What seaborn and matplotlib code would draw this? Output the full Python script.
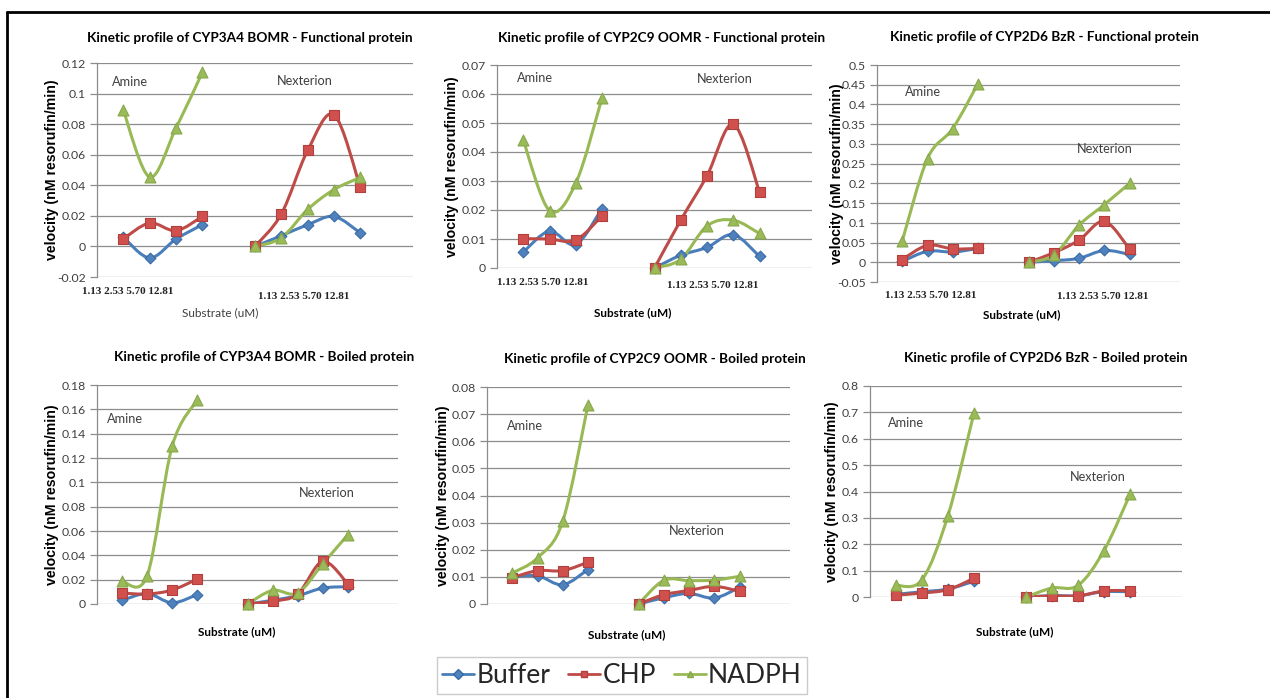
import numpy as np
import pandas as pd
import matplotlib
matplotlib.use("Agg")
import matplotlib.pyplot as plt
import seaborn as sns
from matplotlib.path import Path
from matplotlib.patches import PathPatch
from matplotlib.lines import Line2D
from matplotlib.ticker import FuncFormatter

# ---------------- data ----------------
treatments = ["Buffer", "CHP", "NADPH"]
groups = ["Amine", "Nexterion"]
substrate_labels = ["1.13", "2.53", "5.70", "12.81"]

# CYP3A4 BOMR - Functional protein
f3a4_amine_buffer = [0.006, -0.0075, 0.0048, 0.0142]
f3a4_amine_chp = [0.005, 0.0153, 0.0103, 0.0196]
f3a4_amine_nadph = [0.089, 0.0454, 0.0774, 0.1139]
f3a4_nex_buffer = [0.0, 0.007, 0.0142, 0.0196, 0.0088]
f3a4_nex_chp = [0.0, 0.0212, 0.0628, 0.0862, 0.0386]
f3a4_nex_nadph = [0.0, 0.0056, 0.0242, 0.0372, 0.0451]

# CYP2C9 OOMR - Functional protein
f2c9_amine_buffer = [0.0055, 0.0127, 0.0081, 0.0205]
f2c9_amine_chp = [0.0101, 0.0100, 0.0096, 0.0180]
f2c9_amine_nadph = [0.0441, 0.0198, 0.0292, 0.0586]
f2c9_nex_buffer = [0.0, 0.0044, 0.0071, 0.0115, 0.0040]
f2c9_nex_chp = [0.0, 0.0165, 0.0318, 0.0496, 0.0263]
f2c9_nex_nadph = [0.0, 0.0030, 0.0145, 0.0165, 0.0119]

# CYP2D6 BzR - Functional protein
f2d6_amine_buffer = [0.002, 0.028, 0.026, 0.035]
f2d6_amine_chp = [0.007, 0.043, 0.034, 0.035]
f2d6_amine_nadph = [0.054, 0.263, 0.339, 0.453]
f2d6_nex_buffer = [0.0, 0.004, 0.010, 0.030, 0.020]
f2d6_nex_chp = [0.0, 0.024, 0.056, 0.104, 0.034]
f2d6_nex_nadph = [0.0, 0.018, 0.094, 0.146, 0.200]

# CYP3A4 BOMR - Boiled protein
b3a4_amine_buffer = [0.003, 0.0085, 0.0010, 0.0078]
b3a4_amine_chp = [0.0090, 0.0082, 0.0115, 0.0205]
b3a4_amine_nadph = [0.0186, 0.0233, 0.1300, 0.1677]
b3a4_nex_buffer = [0.0, 0.0030, 0.0068, 0.0131, 0.0142]
b3a4_nex_chp = [0.0, 0.0022, 0.0082, 0.0350, 0.0165]
b3a4_nex_nadph = [0.0, 0.0112, 0.0090, 0.0330, 0.0569]

# CYP2C9 OOMR - Boiled protein
b2c9_amine_buffer = [0.0100, 0.0104, 0.0071, 0.0127]
b2c9_amine_chp = [0.0097, 0.0123, 0.0123, 0.0154]
b2c9_amine_nadph = [0.0114, 0.0170, 0.0305, 0.0735]
b2c9_nex_buffer = [0.0, 0.0023, 0.0039, 0.0022, 0.0061]
b2c9_nex_chp = [0.0, 0.0034, 0.0050, 0.0065, 0.0047]
b2c9_nex_nadph = [0.0, 0.0087, 0.0086, 0.0088, 0.0102]

# CYP2D6 BzR - Boiled protein
b2d6_amine_buffer = [0.010, 0.020, 0.030, 0.060]
b2d6_amine_chp = [0.007, 0.015, 0.028, 0.071]
b2d6_amine_nadph = [0.044, 0.065, 0.309, 0.698]
b2d6_nex_buffer = [0.0, 0.005, 0.005, 0.020, 0.020]
b2d6_nex_chp = [0.0, 0.004, 0.004, 0.023, 0.024]
b2d6_nex_nadph = [0.0, 0.034, 0.044, 0.176, 0.389]

titles = [
    "Kinetic profile of CYP3A4 BOMR - Functional protein",
    "Kinetic profile of CYP2C9 OOMR - Functional protein",
    "Kinetic profile of CYP2D6 BzR - Functional protein",
    "Kinetic profile of CYP3A4 BOMR - Boiled protein",
    "Kinetic profile of CYP2C9 OOMR - Boiled protein",
    "Kinetic profile of CYP2D6 BzR - Boiled protein",
]
panel_series = [
    ([f3a4_amine_buffer, f3a4_amine_chp, f3a4_amine_nadph], [f3a4_nex_buffer, f3a4_nex_chp, f3a4_nex_nadph]),
    ([f2c9_amine_buffer, f2c9_amine_chp, f2c9_amine_nadph], [f2c9_nex_buffer, f2c9_nex_chp, f2c9_nex_nadph]),
    ([f2d6_amine_buffer, f2d6_amine_chp, f2d6_amine_nadph], [f2d6_nex_buffer, f2d6_nex_chp, f2d6_nex_nadph]),
    ([b3a4_amine_buffer, b3a4_amine_chp, b3a4_amine_nadph], [b3a4_nex_buffer, b3a4_nex_chp, b3a4_nex_nadph]),
    ([b2c9_amine_buffer, b2c9_amine_chp, b2c9_amine_nadph], [b2c9_nex_buffer, b2c9_nex_chp, b2c9_nex_nadph]),
    ([b2d6_amine_buffer, b2d6_amine_chp, b2d6_amine_nadph], [b2d6_nex_buffer, b2d6_nex_chp, b2d6_nex_nadph]),
]
y_ranges = [(-0.02, 0.12, 0.02), (0.0, 0.07, 0.01), (-0.05, 0.5, 0.05),
            (0.0, 0.18, 0.02), (0.0, 0.08, 0.01), (0.0, 0.8, 0.1)]

# ---------------- long-form table ----------------
rows = []
for p, (amine, nex) in enumerate(panel_series):
    for g, block in zip(groups, (amine, nex)):
        start = 1 if g == "Amine" else 6
        for t, vals in zip(treatments, block):
            for i, v in enumerate(vals):
                rows.append(dict(panel=p, group=g, treatment=t, pos=start + i, value=v))
df = pd.DataFrame(rows)

# ---------------- style ----------------
sns.set_style("white")
plt.rcParams["font.family"] = ["Lato", "DejaVu Sans"]

line_colors = {"Buffer": "#4A7EBB", "CHP": "#BE4B48", "NADPH": "#98B954"}
fill_colors = {"Buffer": "#4F81BD", "CHP": "#D0504D", "NADPH": "#9BBB59"}
edge_colors = {"Buffer": "#3A6AA6", "CHP": "#B0403D", "NADPH": "#86A84A"}
markers = {"Buffer": "D", "CHP": "s", "NADPH": "^"}
msizes = {"Buffer": 30, "CHP": 55, "NADPH": 62}
grid_c = "#8C8C8C"
text_c = "#404040"

W, H = 1270, 698
fig = plt.figure(figsize=(W / 100, H / 100), dpi=100)

# pixel boxes: x0, x1, y_top, y_bottom
boxes = [(97, 413, 63, 277), (497, 812, 65, 268), (877, 1180, 65, 282),
         (97, 398, 385, 604), (487, 790, 387, 604), (870, 1182, 386, 597)]
title_pos = [(0.484, 1.117), (0.524, 1.133), (0.554, 1.129),
             (0.555, 1.128), (0.554, 1.129), (0.564, 1.133)]
ylabel_off = [45, 45, 40, 45, 44, 38]
xlabel_pos = [(0.389, -0.168), (0.432, -0.222), (0.479, -0.152),
              (0.465, -0.128), (0.462, -0.143), (0.465, -0.166)]
amine_pos = [(0.104, 0.911), (0.121, 0.936), (0.152, 0.876),
             (0.093, 0.845), (0.125, 0.82), (0.115, 0.825)]
nex_pos = [(0.658, 0.916), (0.724, 0.931), (0.752, 0.613),
           (0.764, 0.507), (0.693, 0.336), (0.731, 0.569)]
subs_pos = {0: ((-0.047, -0.070), (0.509, -0.093)),
            1: ((0.0, -0.069), (0.540, -0.084)),
            2: ((0.026, -0.060), (0.594, -0.069))}


def smooth_path(x, y):
    """Excel-style smoothed line through the points (cubic Bezier segments)."""
    pts = np.column_stack([x, y]).astype(float)
    n = len(pts)
    verts = [pts[0]]
    codes = [Path.MOVETO]
    for i in range(n - 1):
        p_prev = pts[i - 1] if i > 0 else pts[i]
        p_next2 = pts[i + 2] if i + 2 < n else pts[i + 1]
        c1 = pts[i] + (pts[i + 1] - p_prev) / 6.0
        c2 = pts[i + 1] - (p_next2 - pts[i]) / 6.0
        verts += [c1, c2, pts[i + 1]]
        codes += [Path.CURVE4] * 3
    return Path(verts, codes)


def fmt(v, _):
    s = f"{v:.2f}".rstrip("0").rstrip(".")
    if s in ("-0", "0.", ""):
        s = "0"
    return s


for p in range(6):
    x0, x1, yt, yb = boxes[p]
    ax = fig.add_axes([x0 / W, 1 - yb / H, (x1 - x0) / W, (yb - yt) / H])
    ymin, ymax, step = y_ranges[p]
    ax.set_xlim(0, 12)
    ax.set_ylim(ymin, ymax)
    ticks = np.round(np.arange(ymin, ymax + step / 2, step), 4)
    ax.set_yticks(ticks)
    ax.yaxis.set_major_formatter(FuncFormatter(fmt))
    ax.set_xticks([])
    ax.grid(axis="y", color=grid_c, linewidth=0.9)
    ax.set_axisbelow(True)
    for s in ("top", "right", "bottom"):
        ax.spines[s].set_visible(False)
    ax.spines["left"].set_color(grid_c)
    ax.spines["left"].set_linewidth(0.9)
    ax.tick_params(axis="y", length=5, width=0.9, color=grid_c, labelsize=8.8,
                   labelcolor=text_c, pad=3, left=True)

    sub = df[df.panel == p]
    for t in treatments:
        for g in groups:
            d = sub[(sub.treatment == t) & (sub.group == g)]
            path = smooth_path(d.pos.values, d.value.values)
            ax.add_patch(PathPatch(path, facecolor="none", edgecolor=line_colors[t],
                                   linewidth=2.2, zorder=3, capstyle="round",
                                   joinstyle="round"))
        dt = sub[sub.treatment == t]
        sns.scatterplot(data=dt, x="pos", y="value", marker=markers[t], s=msizes[t],
                        color=fill_colors[t], edgecolor=edge_colors[t], linewidth=0.8,
                        ax=ax, zorder=4, legend=False, clip_on=False)

    ax.set_xlabel("")
    ax.set_ylabel("velocity (nM resorufin/min)", fontsize=10.2, fontweight="bold",
                  family=["Liberation Sans", "DejaVu Sans"], color="black", va="center")
    ax.yaxis.set_label_coords(-ylabel_off[p] / (x1 - x0), 0.5)

    ax.text(*title_pos[p], titles[p], transform=ax.transAxes, ha="center", va="center",
            fontsize=9.8, fontweight="bold", color="black")

    xw = "normal" if p == 0 else "bold"
    xc = text_c if p == 0 else "black"
    ax.text(*xlabel_pos[p], "Substrate (uM)", transform=ax.transAxes, ha="center",
            va="center", fontsize=8.5, fontweight=xw, color=xc)

    ax.text(*amine_pos[p], "Amine", transform=ax.transAxes, ha="center", va="center",
            fontsize=9.2, color=text_c)
    ax.text(*nex_pos[p], "Nexterion", transform=ax.transAxes, ha="center", va="center",
            fontsize=9.2, color=text_c)

    if p in subs_pos:
        for (sx, sy) in subs_pos[p]:
            ax.text(sx, sy, " ".join(substrate_labels), transform=ax.transAxes,
                    ha="left", va="center", fontsize=8.0, fontweight="bold",
                    family=["Liberation Serif", "DejaVu Serif"], color="#222222",
                    clip_on=False)

# legend
handles = [Line2D([0], [0], color=line_colors[t], lw=2.0, marker=markers[t],
                  markersize=5, markerfacecolor=fill_colors[t],
                  markeredgecolor=edge_colors[t]) for t in treatments]
fig.legend(handles, treatments, loc="upper center", bbox_to_anchor=(622 / W, 1 - 657 / H),
           ncol=3, frameon=True, fancybox=False, edgecolor="#BFBFBF", fontsize=19,
           handlelength=1.2, handletextpad=0.08, columnspacing=0.7, borderpad=0.22,
           borderaxespad=0)

# outer frame (top and left edges)
fig.add_artist(Line2D([7 / W, 1.0], [1 - 12 / H, 1 - 12 / H], color="black", lw=2,
                      transform=fig.transFigure))
fig.add_artist(Line2D([7 / W, 7 / W], [0.0, 1 - 12 / H], color="black", lw=2,
                      transform=fig.transFigure))

fig.savefig("out.png", dpi=100, facecolor="white")
